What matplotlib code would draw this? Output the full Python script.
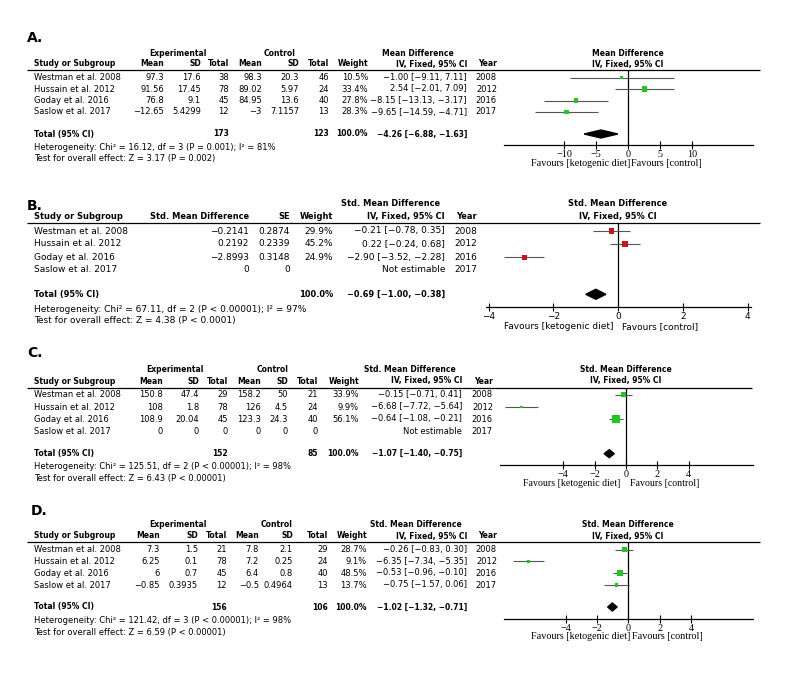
import numpy as np
import matplotlib.pyplot as plt
import matplotlib.transforms as mtransforms
from matplotlib.patches import Polygon

plt.rcParams['font.family'] = ['DejaVu Sans']

studies = ["Westman et al. 2008", "Hussain et al. 2012", "Goday et al. 2016", "Saslow et al. 2017"]
years = ["2008", "2012", "2016", "2017"]

# A. Mean difference
a_exp_mean = ["97.3", "91.56", "76.8", "−12.65"]
a_exp_sd = ["17.6", "17.45", "9.1", "5.4299"]
a_exp_n = ["38", "78", "45", "12"]
a_ctl_mean = ["98.3", "89.02", "84.95", "−3"]
a_ctl_sd = ["20.3", "5.97", "13.6", "7.1157"]
a_ctl_n = ["46", "24", "40", "13"]
a_weight = [10.5, 33.4, 27.8, 28.3]
a_est = [-1.00, 2.54, -8.15, -9.65]
a_lo = [-9.11, -2.01, -13.13, -14.59]
a_hi = [7.11, 7.09, -3.17, -4.71]
a_total = [-4.26, -6.88, -1.63]
a_n_total = ["173", "123"]
a_ticks = [-10, -5, 0, 5, 10]
a_het = "Heterogeneity: Chi² = 16.12, df = 3 (P = 0.001); I² = 81%"
a_test = "Test for overall effect: Z = 3.17 (P = 0.002)"

# B. Std. mean difference (generic inverse variance)
b_smd = ["−0.2141", "0.2192", "−2.8993", "0"]
b_se = ["0.2874", "0.2339", "0.3148", "0"]
b_weight = [29.9, 45.2, 24.9, np.nan]
b_est = [-0.21, 0.22, -2.90, np.nan]
b_lo = [-0.78, -0.24, -3.52, np.nan]
b_hi = [0.35, 0.68, -2.28, np.nan]
b_total = [-0.69, -1.00, -0.38]
b_ticks = [-4, -2, 0, 2, 4]
b_het = "Heterogeneity: Chi² = 67.11, df = 2 (P < 0.00001); I² = 97%"
b_test = "Test for overall effect: Z = 4.38 (P < 0.0001)"

# C. Std. mean difference
c_exp_mean = ["150.8", "108", "108.9", "0"]
c_exp_sd = ["47.4", "1.8", "20.04", "0"]
c_exp_n = ["29", "78", "45", "0"]
c_ctl_mean = ["158.2", "126", "123.3", "0"]
c_ctl_sd = ["50", "4.5", "24.3", "0"]
c_ctl_n = ["21", "24", "40", "0"]
c_weight = [33.9, 9.9, 56.1, np.nan]
c_est = [-0.15, -6.68, -0.64, np.nan]
c_lo = [-0.71, -7.72, -1.08, np.nan]
c_hi = [0.41, -5.64, -0.21, np.nan]
c_total = [-1.07, -1.40, -0.75]
c_n_total = ["152", "85"]
c_ticks = [-4, -2, 0, 2, 4]
c_het = "Heterogeneity: Chi² = 125.51, df = 2 (P < 0.00001); I² = 98%"
c_test = "Test for overall effect: Z = 6.43 (P < 0.00001)"

# D. Std. mean difference
d_exp_mean = ["7.3", "6.25", "6", "−0.85"]
d_exp_sd = ["1.5", "0.1", "0.7", "0.3935"]
d_exp_n = ["21", "78", "45", "12"]
d_ctl_mean = ["7.8", "7.2", "6.4", "−0.5"]
d_ctl_sd = ["2.1", "0.25", "0.8", "0.4964"]
d_ctl_n = ["29", "24", "40", "13"]
d_weight = [28.7, 9.1, 48.5, 13.7]
d_est = [-0.26, -6.35, -0.53, -0.75]
d_lo = [-0.83, -7.34, -0.96, -1.57]
d_hi = [0.30, -5.35, -0.10, 0.06]
d_total = [-1.02, -1.32, -0.71]
d_n_total = ["156", "106"]
d_ticks = [-4, -2, 0, 2, 4]
d_het = "Heterogeneity: Chi² = 121.42, df = 3 (P < 0.00001); I² = 98%"
d_test = "Test for overall effect: Z = 6.59 (P < 0.00001)"

GREEN = '#1ec81e'
RED = '#c81414'
W, H = 800, 682

fig = plt.figure(figsize=(W / 100, H / 100), dpi=100)
bg = fig.add_axes([0, 0, 1, 1])
bg.set_xlim(0, W)
bg.set_ylim(H, 0)
bg.axis('off')


def num(v):
    return f"{v:.2f}".replace("-", "−")


def ci_text(e, l, h):
    if np.isnan(e):
        return "Not estimable"
    return f"{num(e)} [{num(l)}, {num(h)}]"


def draw_panel(p):
    fs = p['fs']
    bfs = fs * 0.92  # bold text is wider in DejaVu
    bg.text(p['lab_x'], p['lab_y'], p['label'], fontsize=10, fontweight='bold', va='center')
    for txt, x in p['head1']:
        bg.text(x, p['h1_y'], txt, fontsize=bfs, fontweight='bold', ha='center', va='center')
    bg.text(34, p['h2_y'], 'Study or Subgroup', fontsize=bfs, fontweight='bold', va='center')
    for txt, x in zip(p['head2'], p['col_x']):
        bg.text(x, p['h2_y'], txt, fontsize=bfs, fontweight='bold', ha='right', va='center')
    bg.hlines(p['hline_y'], 27, p['hline_x1'], color='k', lw=0.9)

    weights = ["" if np.isnan(w) else f"{w:.1f}%" for w in p['weight']]
    cis = [ci_text(e, l, h) for e, l, h in zip(p['est'], p['lo'], p['hi'])]
    columns = p['cols'] + [weights, cis, years]
    for i, y in enumerate(p['rows_y']):
        bg.text(34, y, studies[i], fontsize=fs, va='center')
        for col, x in zip(columns, p['col_x']):
            bg.text(x, y, col[i], fontsize=fs, ha='right', va='center')

    ty = p['total_y']
    bg.text(34, ty, 'Total (95% CI)', fontsize=bfs, fontweight='bold', va='center')
    tot_vals = p['tot_n'] + ["100.0%", ci_text(*p['total'])]
    for txt, ci in zip(tot_vals, p['tot_cols']):
        bg.text(p['col_x'][ci], ty, txt, fontsize=bfs, fontweight='bold', ha='right', va='center')
    bg.text(34, p['het_y'], p['het'], fontsize=fs, va='center')
    bg.text(34, p['test_y'], p['test'], fontsize=fs, va='center')

    # forest plot
    x0, x1 = p['fx']
    ax = fig.add_axes([x0 / W, 1 - p['axis_y'] / H, (x1 - x0) / W, (p['axis_y'] - p['hline_y']) / H])
    ax.set_xlim(p['xlim'])
    ax.set_ylim(p['axis_y'], p['hline_y'])
    ax.patch.set_alpha(0)
    for s in ['top', 'right', 'left']:
        ax.spines[s].set_visible(False)
    ax.spines['bottom'].set_linewidth(0.9)
    ax.set_yticks([])
    ax.set_xticks(p['ticks'])
    ax.set_xticklabels([str(t).replace("-", "−") for t in p['ticks']],
                       fontsize=p['tfs'], family=p['tfont'])
    ax.tick_params(axis='x', direction='inout', length=6, width=0.8, pad=0.5)
    ax.axvline(0, color='k', lw=0.9)

    est = np.array(p['est'])
    ok = ~np.isnan(est)
    ys = np.array(p['rows_y'])[ok]
    ax.hlines(ys, np.array(p['lo'])[ok], np.array(p['hi'])[ok], color='#555555', lw=0.8, zorder=2)
    side = p['box_k'] * np.sqrt(np.array(p['weight'])[ok])
    ax.scatter(est[ok], ys, marker='s', s=(side * 0.72) ** 2, color=p['color'],
               linewidths=0, zorder=3)
    e, l, h = p['total']
    dh = p['dia_h'] / 2
    ax.add_patch(Polygon([(l, ty), (e, ty - dh), (h, ty), (e, ty + dh)], closed=True,
                         color='k', zorder=3))

    bg.text(p['fhead_x'], p['h1_y'], p['fhead'], fontsize=bfs, fontweight='bold', ha='center', va='center')
    bg.text(p['fhead_x'], p['h2_y'], 'IV, Fixed, 95% CI', fontsize=bfs, fontweight='bold',
            ha='center', va='center')

    tr = mtransforms.blended_transform_factory(ax.transData, bg.transData)
    gl, gr = p['fav_gap']
    ax.text(0, p['fav_y'], 'Favours [ketogenic diet]', fontsize=p['ffs'], family=p['tfont'],
            ha='right', va='center',
            transform=tr + mtransforms.ScaledTranslation(gl / 100, 0, fig.dpi_scale_trans))
    ax.text(0, p['fav_y'], 'Favours [control]', fontsize=p['ffs'], family=p['tfont'],
            ha='left', va='center',
            transform=tr + mtransforms.ScaledTranslation(gr / 100, 0, fig.dpi_scale_trans))


head2_full = ['Mean', 'SD', 'Total', 'Mean', 'SD', 'Total', 'Weight', 'IV, Fixed, 95% CI', 'Year']

panels = [
    dict(label='A.', lab_x=27, lab_y=38, fs=6.0, h1_y=53, h2_y=64, hline_y=70, hline_x1=760,
         head1=[('Experimental', 178), ('Control', 280), ('Mean Difference', 418)],
         head2=head2_full, col_x=[164, 201, 229, 262, 299, 329, 368, 467, 497],
         cols=[a_exp_mean, a_exp_sd, a_exp_n, a_ctl_mean, a_ctl_sd, a_ctl_n],
         weight=a_weight, est=a_est, lo=a_lo, hi=a_hi, total=a_total,
         rows_y=[77.5, 89, 100.5, 112], total_y=134, tot_n=a_n_total, tot_cols=[2, 5, 6, 7],
         het=a_het, test=a_test, het_y=147, test_y=158,
         fx=(504, 752.7), xlim=(-19.36, 19.38), axis_y=145.3, ticks=a_ticks,
         tfs=7.3, ffs=7.3, tfont='Liberation Serif', fav_y=163, fav_gap=(2, 3),
         color=GREEN, box_k=0.9, dia_h=8, fhead='Mean Difference', fhead_x=628),
    dict(label='B.', lab_x=27, lab_y=206.5, fs=6.5, h1_y=204, h2_y=216.7, hline_y=223.3, hline_x1=760,
         head1=[('Std. Mean Difference', 391)],
         head2=['Std. Mean Difference', 'SE', 'Weight', 'IV, Fixed, 95% CI', 'Year'],
         col_x=[249, 290, 333, 445, 477],
         cols=[b_smd, b_se],
         weight=b_weight, est=b_est, lo=b_lo, hi=b_hi, total=b_total,
         rows_y=[231, 244, 257.3, 270], total_y=294.3, tot_n=[], tot_cols=[2, 3],
         het=b_het, test=b_test, het_y=309, test_y=320,
         fx=(486, 751), xlim=(-4.08, 4.1), axis_y=307.3, ticks=b_ticks,
         tfs=6.5, ffs=6.5, tfont='DejaVu Sans', fav_y=326.7, fav_gap=(-5, 4),
         color=RED, box_k=0.95, dia_h=10, fhead='Std. Mean Difference', fhead_x=618),
    dict(label='C.', lab_x=27, lab_y=353, fs=6.0, h1_y=369.3, h2_y=381, hline_y=387.7, hline_x1=752,
         head1=[('Experimental', 175), ('Control', 273), ('Std. Mean Difference', 410)],
         head2=head2_full, col_x=[163, 199, 228, 261, 288, 318, 359, 462, 493],
         cols=[c_exp_mean, c_exp_sd, c_exp_n, c_ctl_mean, c_ctl_sd, c_ctl_n],
         weight=c_weight, est=c_est, lo=c_lo, hi=c_hi, total=c_total,
         rows_y=[394.7, 407, 419, 431], total_y=453.7, tot_n=c_n_total, tot_cols=[2, 5, 6, 7],
         het=c_het, test=c_test, het_y=466.7, test_y=478.7,
         fx=(500, 752.7), xlim=(-8.03, 8.07), axis_y=465.3, ticks=c_ticks,
         tfs=7.3, ffs=7.1, tfont='Liberation Serif', fav_y=483.3, fav_gap=(-6, 4),
         color=GREEN, box_k=0.95, dia_h=8, fhead='Std. Mean Difference', fhead_x=626),
    dict(label='D.', lab_x=31, lab_y=510.7, fs=6.0, h1_y=524.3, h2_y=536, hline_y=542.3, hline_x1=760,
         head1=[('Experimental', 178), ('Control', 277), ('Std. Mean Difference', 416)],
         head2=head2_full, col_x=[160, 198, 227, 259, 293, 328, 367, 467, 497],
         cols=[d_exp_mean, d_exp_sd, d_exp_n, d_ctl_mean, d_ctl_sd, d_ctl_n],
         weight=d_weight, est=d_est, lo=d_lo, hi=d_hi, total=d_total,
         rows_y=[549.7, 561.3, 573, 585], total_y=607, tot_n=d_n_total, tot_cols=[2, 5, 6, 7],
         het=d_het, test=d_test, het_y=620.3, test_y=632.7,
         fx=(504.3, 752.7), xlim=(-7.9, 7.92), axis_y=618.7, ticks=d_ticks,
         tfs=7.3, ffs=7.3, tfont='Liberation Serif', fav_y=636.7, fav_gap=(2, 4),
         color=GREEN, box_k=0.95, dia_h=8, fhead='Std. Mean Difference', fhead_x=628),
]

for p in panels:
    draw_panel(p)

fig.savefig('out.png', dpi=100)
